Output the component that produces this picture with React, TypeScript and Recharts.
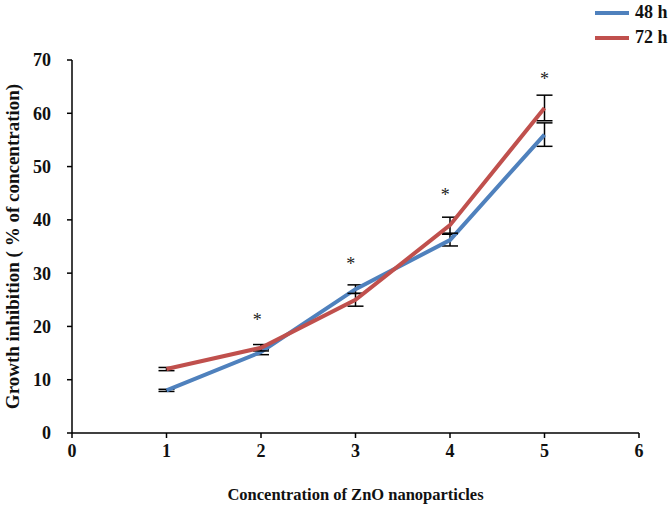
import { ComposedChart, ErrorBar, Label, Line, Scatter, XAxis, YAxis } from 'recharts'

const concentrations = [1, 2, 3, 4, 5]
const inhibition48 = [8, 15.2, 27, 36.2, 56]
const err48 = [0.2, 0.5, 0.8, 1.1, 2.2]
const inhibition72 = [12, 16, 25, 39, 61]
const err72 = [0.3, 0.6, 1.2, 1.5, 2.4]

// significance markers (*) drawn above the points
const starX = [1.96, 2.95, 3.95, 5]
const starY = [21.8, 32.3, 45.2, 67]

const xTicks = [0, 1, 2, 3, 4, 5, 6]
const yTicks = [0, 10, 20, 30, 40, 50, 60, 70]

const BLUE = '#4F81BD'
const RED = '#C0504D'
const FONT = '"Liberation Serif", "Times New Roman", serif'

const rows = concentrations.map((x, i) => ({
  x,
  h48: inhibition48[i],
  e48: err48[i],
  h72: inhibition72[i],
  e72: err72[i],
}))

const stars = starX.map((x, i) => ({ x, y: starY[i] }))

function Star(props: { cx?: number; cy?: number }) {
  const { cx = 0, cy = 0 } = props
  return (
    <text x={cx} y={cy + 9} textAnchor="middle" fontFamily={FONT} fontSize={18} fill="#222">
      *
    </text>
  )
}

const legendItems = [
  { name: '48 h', color: BLUE },
  { name: '72 h', color: RED },
]

function LegendBox() {
  return (
    <div
      style={{
        position: 'absolute',
        left: 595,
        top: 0,
        fontFamily: FONT,
        fontWeight: 700,
        fontSize: 18,
        color: '#111',
      }}
    >
      {legendItems.map((it) => (
        <div key={it.name} style={{ display: 'flex', alignItems: 'center', height: 25 }}>
          <span style={{ display: 'inline-block', width: 34, height: 4, background: it.color, marginRight: 6 }} />
          <span>{it.name}</span>
        </div>
      ))}
    </div>
  )
}

export default function App() {
  const tickStyle = { fill: '#111', fontSize: 18, fontWeight: 700, fontFamily: FONT }
  return (
    <div style={{ position: 'absolute', left: 0, top: 0, width: 671, height: 506, background: '#fff' }}>
      <ComposedChart width={671} height={506} data={rows} margin={{ top: 60, right: 32, bottom: 0, left: 10 }}>
        <XAxis
          dataKey="x"
          type="number"
          domain={[0, 6]}
          ticks={xTicks}
          tick={tickStyle}
          tickSize={5}
          tickMargin={6}
          axisLine={{ stroke: '#000', strokeWidth: 1.5 }}
          tickLine={{ stroke: '#000', strokeWidth: 1.5 }}
          height={73}
        >
          <Label
            value="Concentration of ZnO nanoparticles"
            position="insideBottom"
            offset={6}
            style={{ fill: '#111', fontSize: 16.5, fontWeight: 700, fontFamily: FONT }}
          />
        </XAxis>
        <YAxis
          type="number"
          domain={[0, 70]}
          ticks={yTicks}
          tick={tickStyle}
          tickSize={5}
          tickMargin={16}
          axisLine={{ stroke: '#000', strokeWidth: 1.5 }}
          tickLine={{ stroke: '#000', strokeWidth: 1.5 }}
          width={62}
        >
          <Label
            value="Growth inhibition ( % of concentration)"
            angle={-90}
            position="insideLeft"
            offset={2}
            style={{ fill: '#111', fontSize: 19, fontWeight: 700, fontFamily: FONT, textAnchor: 'middle' }}
          />
        </YAxis>
        <Line
          type="linear"
          dataKey="h48"
          name="48 h"
          stroke={BLUE}
          strokeWidth={4}
          dot={false}
          activeDot={false}
          isAnimationActive={false}
        >
          <ErrorBar dataKey="e48" width={8} stroke="#000" strokeWidth={1.5} direction="y" />
        </Line>
        <Line
          type="linear"
          dataKey="h72"
          name="72 h"
          stroke={RED}
          strokeWidth={4}
          dot={false}
          activeDot={false}
          isAnimationActive={false}
        >
          <ErrorBar dataKey="e72" width={8} stroke="#000" strokeWidth={1.5} direction="y" />
        </Line>
        <Scatter data={stars} dataKey="y" shape={<Star />} legendType="none" isAnimationActive={false} />
      </ComposedChart>
      <LegendBox />
    </div>
  )
}
